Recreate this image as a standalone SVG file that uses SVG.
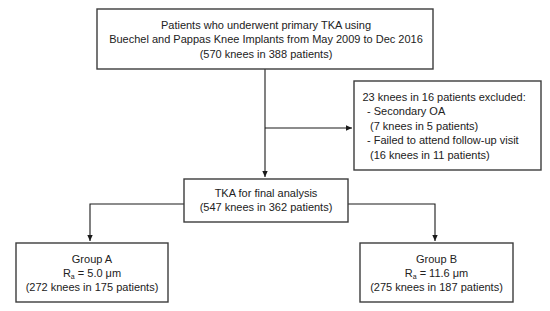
<svg xmlns="http://www.w3.org/2000/svg" width="550" height="311" viewBox="0 0 550 311">
<style>
.box{fill:#fff;stroke:#3c3c3c;stroke-width:1.4}
.t{font-family:"Liberation Sans",Arial,sans-serif;font-size:11px;fill:#222}
.c{text-anchor:middle}
.ln{fill:none;stroke:#1a1a1a;stroke-width:1.1}
</style>
<defs>
<marker id="ah" viewBox="0 0 10 10" refX="10" refY="5" markerWidth="6" markerHeight="6" markerUnits="userSpaceOnUse" orient="auto">
<path d="M0,0.5 L10,5 L0,9.5 z" fill="#1a1a1a"/>
</marker>
</defs>
<rect width="550" height="311" fill="#fff"/>
<g id="connectors">
<path class="ln" d="M265,69 V177" marker-end="url(#ah)"/>
<path class="ln" d="M265,128 H352" marker-end="url(#ah)"/>
<path class="ln" d="M184,204 H90 V241" marker-end="url(#ah)"/>
<path class="ln" d="M348,204 H435 V241" marker-end="url(#ah)"/>
</g>
<g id="start">
<rect class="box" x="97" y="9" width="336" height="60"/>
<text class="t c" x="266" y="29">Patients who underwent primary TKA using</text>
<text class="t c" x="266" y="43">Buechel and Pappas Knee Implants from May 2009 to Dec 2016</text>
<text class="t c" x="266" y="57.5">(570 knees in 388 patients)</text>
</g>
<g id="excluded">
<rect class="box" x="354" y="81" width="187" height="89"/>
<text class="t" x="362.5" y="100.5">23 knees in 16 patients excluded:</text>
<text class="t" x="367" y="115">- Secondary OA</text>
<text class="t" x="370" y="129.5">(7 knees in 5 patients)</text>
<text class="t" x="367" y="144">- Failed to attend follow-up visit</text>
<text class="t" x="370" y="158.5">(16 knees in 11 patients)</text>
</g>
<g id="final">
<rect class="box" x="184" y="179" width="164" height="43"/>
<text class="t c" x="266" y="197">TKA for final analysis</text>
<text class="t c" x="266" y="211">(547 knees in 362 patients)</text>
</g>
<g id="groupA">
<rect class="box" x="16" y="243" width="152" height="59"/>
<text class="t c" x="92" y="263">Group A</text>
<text class="t c" x="92" y="277">R<tspan font-size="7" dy="2">a</tspan><tspan dy="-2"> = 5.0 μm</tspan></text>
<text class="t c" x="92" y="291">(272 knees in 175 patients)</text>
</g>
<g id="groupB">
<rect class="box" x="360" y="243" width="153" height="59"/>
<text class="t c" x="436.5" y="263">Group B</text>
<text class="t c" x="436.5" y="277">R<tspan font-size="7" dy="2">a</tspan><tspan dy="-2"> = 11.6 μm</tspan></text>
<text class="t c" x="436.5" y="291">(275 knees in 187 patients)</text>
</g>
</svg>
